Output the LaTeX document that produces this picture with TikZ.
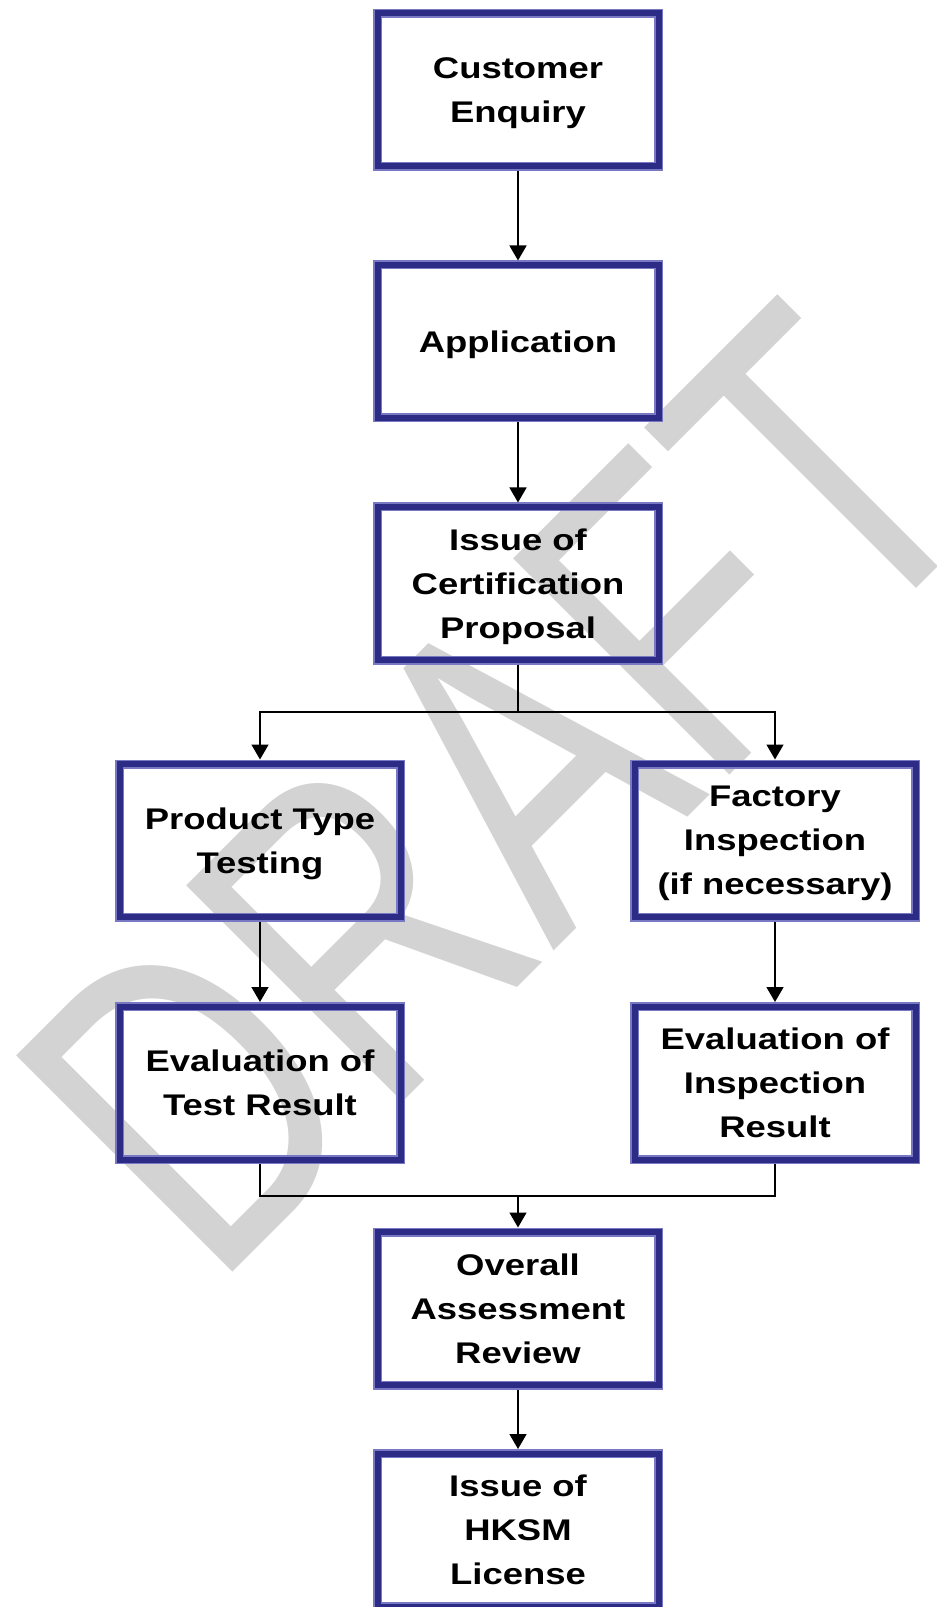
\documentclass[tikz,border=0pt]{standalone}
\usepackage{fontspec}
\usetikzlibrary{arrows.meta,positioning}

\newfontfamily\boxfont{Liberation Sans}[FakeStretch=1.22]
\newfontfamily\markfont{Liberation Sans}[FakeStretch=0.75]
\definecolor{boxblue}{RGB}{44,44,135}
\definecolor{boxedge}{RGB}{120,120,195}
\definecolor{markgray}{RGB}{211,211,211}

\begin{document}
\begin{tikzpicture}[stage/.style={draw=boxedge,line width=0.03cm,double=boxblue,double distance=0.12cm,
                                  outer sep=0.09cm,minimum width=5.62cm,minimum height=3.06cm,
                                  inner sep=0pt,align=center,text depth=0pt,
                                  font=\boxfont\bfseries\fontsize{17}{25}\selectfont},
                    link/.style={line width=0.03cm},
                    every edge/.style={draw,link},
                    >={Triangle[width=0.34cm,length=0.3cm]}]

\useasboundingbox (0,0) rectangle (18.72,-32.14);

\node[rotate=45,anchor=base west,inner sep=0pt,text=markgray,
      font=\markfont\fontsize{253}{253}\selectfont] (wm) at (4.26,-25.84) {DRAFT};

\node[stage] (s0) at (10.36,-1.80) {Customer\\Enquiry};
\node[stage,below=1.79cm of s0] (s1) {Application} edge[<-] (s0);
\node[stage,below=1.60cm of s1] (s2) {Issue of\\Certification\\Proposal} edge[<-] (s1);

\node[stage,below=1.90cm of s2,xshift=-5.16cm] (t0) {Product Type\\Testing};
\node[stage,right=4.50cm of t0] (f0) {Factory\\Inspection\\(if necessary)};
\node[stage,below=1.61cm of t0] (t1) {Evaluation of\\Test Result} edge[<-] (t0);
\node[stage,below=1.61cm of f0] (f1) {Evaluation of\\Inspection\\Result} edge[<-] (f0);

\coordinate[below=0.95cm of s2] (br);
\coordinate (mg) at ([yshift=-0.64cm]s2 |- t1.south);

\node[stage,below=0.63cm of mg] (s3) {Overall\\Assessment\\Review};
\node[stage,below=1.19cm of s3] (s4) {Issue of\\HKSM\\License} edge[<-] (s3);

\draw[link] (s2) -- (br);
\draw[link,->] (br) -| (t0);
\draw[link,->] (br) -| (f0);
\draw[link] (t1) |- (mg);
\draw[link] (f1) |- (mg);
\draw[link,->] (mg) -- (s3);

\end{tikzpicture}
\end{document}
